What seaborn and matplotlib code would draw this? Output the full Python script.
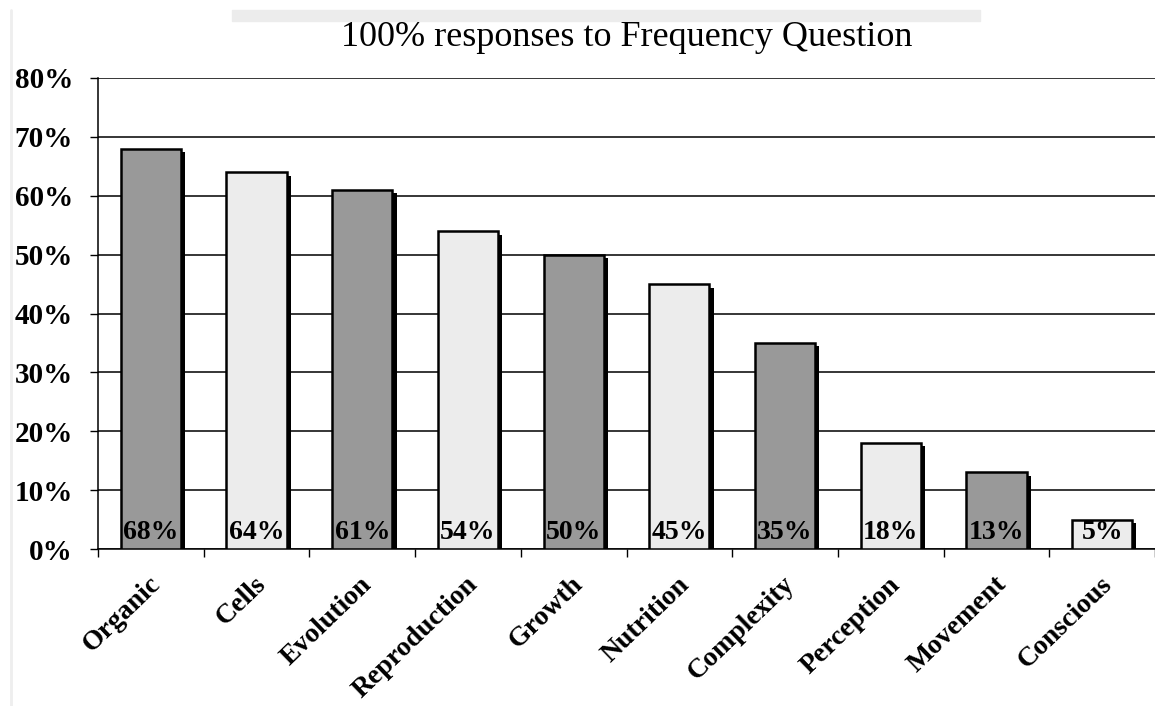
import matplotlib
matplotlib.use('Agg')
import matplotlib.pyplot as plt
import matplotlib.patheffects as pe
from matplotlib.patches import Rectangle
from matplotlib.lines import Line2D
from matplotlib.transforms import ScaledTranslation
from matplotlib.ticker import FuncFormatter
import pandas as pd
import seaborn as sns


categories = ['Organic', 'Cells', 'Evolution', 'Reproduction', 'Growth',
              'Nutrition', 'Complexity', 'Perception', 'Movement', 'Conscious']
percent = [68, 64, 61, 54, 50, 45, 35, 18, 13, 5]
bar_colors = ['#999999', '#ececec'] * 5
title = '100% responses to Frequency Question'


sns.set_theme(style='ticks')
plt.rcParams['font.family'] = ['Liberation Serif', 'DejaVu Serif']
plt.rcParams.update({'text.color': 'black', 'axes.labelcolor': 'black',
                     'xtick.color': 'black', 'ytick.color': 'black'})

df = pd.DataFrame({'Concept': categories, 'Percent': percent})

W, H = 1155, 706
fig = plt.figure(figsize=(W / 100, H / 100), dpi=100)
ax = fig.add_axes([98 / W, 1 - 549 / H, 1 - 98 / W, (549 - 78) / H])

sns.barplot(data=df, x='Concept', y='Percent', hue='Concept', palette=bar_colors,
            width=0.57, edgecolor='black', linewidth=1.8, saturation=1,
            legend=False, ax=ax, zorder=3)

# black drop shadow on each bar
for p in ax.patches:
	p.set_path_effects([pe.SimplePatchShadow(offset=(3, -2.5), shadow_rgbFace='black', alpha=1),
	                    pe.Normal()])

# value labels sitting at the foot of each bar
for i, v in enumerate(percent):
	ax.annotate(f'{v}%', xy=(i, 0), xytext=(0, 3), textcoords='offset points',
	            ha='center', va='bottom', fontsize=20, fontweight='bold', color='black', zorder=5)

ax.set_xlim(-0.5, 9.5)
ax.set_ylim(0, 80)
ax.set_yticks(range(0, 81, 10))
ax.yaxis.set_major_formatter(FuncFormatter(lambda v, pos: f'{v:.0f}%'))
ax.yaxis.grid(True, color='black', linewidth=1.1)
ax.set_axisbelow(True)

ax.set_xticks(range(len(categories)))
ax.set_xticks([x - 0.5 for x in range(len(categories) + 1)], minor=True)
ax.tick_params(axis='x', which='major', length=0, pad=23, labelsize=20)
ax.tick_params(axis='x', which='minor', length=6, width=1, color='black', direction='out')
ax.tick_params(axis='y', length=6, width=1, color='black', direction='out', labelsize=21, pad=12)
for lbl in ax.get_xticklabels():
	lbl.set_rotation(44)
	lbl.set_ha('right')
	lbl.set_va('center')
	lbl.set_rotation_mode('anchor')
	lbl.set_fontweight('bold')
	lbl.set_transform(lbl.get_transform() + ScaledTranslation(6 / 100, 0, fig.dpi_scale_trans))
for lbl in ax.get_yticklabels():
	lbl.set_fontweight('bold')

ax.set_xlabel('')
ax.set_ylabel('')
sns.despine(ax=ax, top=True, right=True)
for s in ['left', 'bottom']:
	ax.spines[s].set_color('black')
	ax.spines[s].set_linewidth(1.1)

# light strip behind the title and faint left border, as in the scan
fig.patches.append(Rectangle((232 / W, 1 - 21 / H), (980 - 232) / W, 11 / H,
                             transform=fig.transFigure, color='#ececec', zorder=0))
fig.lines.append(Line2D([11 / W, 11 / W], [0, 1 - 10 / H], transform=fig.transFigure,
                        color='#eeeeee', linewidth=2))

fig.text(627 / W, 1 - 38 / H, title, ha='center', va='center', fontsize=26)

fig.savefig('out.png', dpi=100)
